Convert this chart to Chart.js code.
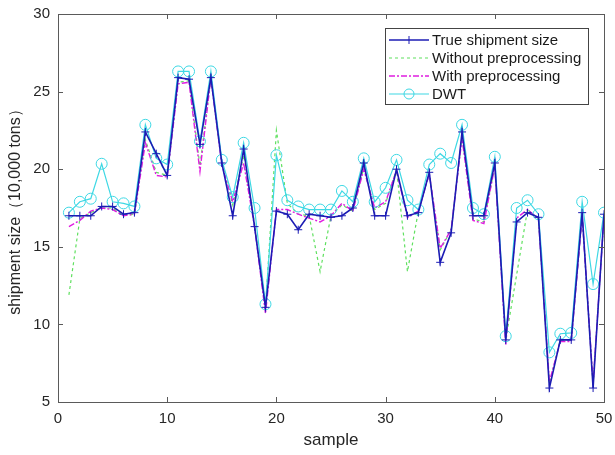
<!DOCTYPE html>
<html>
<head>
<meta charset="utf-8">
<script src="https://cdn.jsdelivr.net/npm/chart.js@4"></script>
<style>
  html, body { margin:0; padding:0; background:#fff; }
  #wrap { width:615px; height:455px; }
</style>
</head>
<body>
<div id="wrap"><canvas id="chart" width="615" height="455"></canvas></div>
<script>
// sample index 1..50
const samples = Array.from({ length: 50 }, (_, i) => i + 1);

const trueSize = [
  17.0, 17.0, 17.0, 17.6, 17.6, 17.1, 17.2, 22.4, 21.0, 19.6,
  25.9, 25.8, 21.6, 25.9, 20.4, 17.0, 21.3, 16.3, 11.1, 17.3,
  17.1, 16.1, 17.1, 17.0, 16.9, 17.0, 17.5, 20.4, 17.0, 17.0,
  20.0, 17.0, 17.2, 19.8, 14.0, 15.9, 22.4, 17.0, 17.0, 20.4,
  9.0, 16.6, 17.2, 16.9, 5.9, 9.0, 9.0, 17.2, 5.9, 17.1
];
const withoutPre = [
  11.9, 16.8, 17.2, 17.5, 17.5, 17.0, 17.1, 21.9, 19.8, 19.6,
  25.6, 25.7, 20.2, 25.9, 20.4, 17.7, 20.9, 16.5, 11.0, 22.5,
  17.8, 17.1, 17.0, 13.4, 17.0, 17.7, 17.3, 20.1, 17.4, 17.8,
  20.0, 13.4, 17.3, 19.7, 14.8, 16.1, 22.1, 16.8, 16.6, 20.2,
  9.0, 13.2, 17.4, 16.8, 6.2, 9.0, 9.0, 17.0, 6.1, 16.9
];
const withPre = [
  16.3, 16.7, 17.3, 17.5, 17.4, 17.0, 17.1, 21.7, 19.6, 19.5,
  25.5, 25.6, 19.85, 25.9, 20.3, 17.9, 20.4, 16.3, 10.7, 17.4,
  17.4, 17.1, 16.85, 16.6, 17.0, 17.8, 17.3, 20.0, 17.5, 17.9,
  19.9, 16.9, 17.3, 19.7, 14.9, 16.1, 22.0, 16.7, 16.5, 20.2,
  8.7, 16.85, 17.4, 16.8, 6.3, 8.9, 8.9, 17.0, 6.2, 16.9
];
const dwt = [
  17.2, 17.9, 18.1, 20.35, 17.9, 17.8, 17.6, 22.86, 20.7, 20.3,
  26.3, 26.3, 21.8, 26.3, 20.6, 18.2, 21.7, 17.5, 11.3, 20.9,
  18.0, 17.6, 17.4, 17.4, 17.4, 18.6, 17.9, 20.7, 17.9, 18.8,
  20.6, 18.0, 17.4, 20.3, 21.0, 20.4, 22.86, 17.5, 17.1, 20.8,
  9.24, 17.5, 18.0, 17.1, 8.2, 9.4, 9.45, 17.9, 12.6, 17.2
];

const xTicks = [0, 10, 20, 30, 40, 50];
const yTicks = [5, 10, 15, 20, 25, 30];

const pts = arr => arr.map((v, i) => ({ x: samples[i], y: v }));

// MATLAB style box + inward ticks
const boxTicks = {
  id: 'boxTicks',
  afterDraw(chart) {
    const { ctx, chartArea: a, scales } = chart;
    ctx.save();
    ctx.strokeStyle = '#5a5a5a';
    ctx.lineWidth = 1;
    ctx.strokeRect(a.left + 0.5, a.top + 0.5, a.right - a.left, a.bottom - a.top);
    ctx.beginPath();
    xTicks.forEach(t => {
      const px = Math.round(scales.x.getPixelForValue(t)) + 0.5;
      ctx.moveTo(px, a.bottom); ctx.lineTo(px, a.bottom - 5);
      ctx.moveTo(px, a.top); ctx.lineTo(px, a.top + 5);
    });
    yTicks.forEach(t => {
      const py = Math.round(scales.y.getPixelForValue(t)) + 0.5;
      ctx.moveTo(a.left, py); ctx.lineTo(a.left + 5, py);
      ctx.moveTo(a.right, py); ctx.lineTo(a.right - 5, py);
    });
    ctx.stroke();

    // legend box
    const lx = 385, ly = 28, lw = 203, lh = 76;
    ctx.fillStyle = '#fff';
    ctx.fillRect(lx, ly, lw, lh);
    ctx.strokeStyle = '#444';
    ctx.strokeRect(lx + 0.5, ly + 0.5, lw, lh);
    ctx.font = '15px "Liberation Sans", Arial, sans-serif';
    ctx.textBaseline = 'middle';
    const order = [0, 1, 2, 3];
    order.forEach((di, k) => {
      const ds = chart.data.datasets[di];
      const y = ly + 12 + k * 18;
      ctx.strokeStyle = ds.borderColor;
      ctx.lineWidth = ds.borderWidth;
      ctx.setLineDash(ds.borderDash || []);
      ctx.beginPath();
      ctx.moveTo(lx + 4, y); ctx.lineTo(lx + 44, y);
      ctx.stroke();
      ctx.setLineDash([]);
      ctx.lineWidth = 1;
      const cx = lx + 24;
      if (ds.pointStyle === 'circle') {
        ctx.beginPath(); ctx.arc(cx, y, 5, 0, Math.PI * 2); ctx.stroke();
      } else if (ds.pointStyle === 'cross') {
        ctx.beginPath(); ctx.moveTo(cx, y - 4); ctx.lineTo(cx, y + 4); ctx.stroke();
      }
      ctx.fillStyle = '#1a1a1a';
      ctx.fillText(ds.label, lx + 47, y + 1);
    });
    ctx.restore();
  }
};

new Chart(document.getElementById('chart'), {
  type: 'line',
  data: {
    datasets: [
      {
        label: 'True shipment size', data: pts(trueSize),
        borderColor: '#1c1cb4', borderWidth: 1.6,
        pointStyle: 'cross', pointRadius: 4, pointBorderWidth: 1, pointBorderColor: '#1c1cb4',
        order: 0
      },
      {
        label: 'Without preprocessing', data: pts(withoutPre),
        borderColor: '#5ee05e', borderWidth: 1.2, borderDash: [3, 3],
        pointRadius: 0, order: 3
      },
      {
        label: 'With preprocessing', data: pts(withPre),
        borderColor: '#e01ee0', borderWidth: 1.4, borderDash: [6, 2, 2, 2],
        pointRadius: 0, order: 2
      },
      {
        label: 'DWT', data: pts(dwt),
        borderColor: '#3ed8e4', borderWidth: 1.2,
        pointStyle: 'circle', pointRadius: 5.5, pointBorderWidth: 1,
        pointBackgroundColor: 'rgba(0,0,0,0)', pointBorderColor: '#3ed8e4',
        order: 1
      }
    ]
  },
  options: {
    responsive: false,
    animation: false,
    events: [],
    layout: { padding: { top: 14, right: 11, left: 0, bottom: 0 } },
    plugins: { legend: { display: false }, tooltip: { enabled: false } },
    scales: {
      x: {
        type: 'linear', min: 0, max: 50,
        afterBuildTicks: s => { s.ticks = xTicks.map(v => ({ value: v })); },
        afterFit: s => { s.height = 53; s.paddingLeft = 0; s.paddingRight = 0; },
        grid: { display: false, drawTicks: false },
        border: { display: false },
        ticks: { padding: 8, color: '#262626', font: { family: '"Liberation Sans", Arial, sans-serif', size: 15 } },
        title: { display: true, text: 'sample', color: '#262626', padding: { top: 2 },
          font: { family: '"Liberation Sans", Arial, sans-serif', size: 17 } }
      },
      y: {
        type: 'linear', min: 5, max: 30,
        afterBuildTicks: s => { s.ticks = yTicks.map(v => ({ value: v })); },
        afterFit: s => { s.width = 58; s.paddingTop = 0; s.paddingBottom = 0; },
        grid: { display: false, drawTicks: false },
        border: { display: false },
        ticks: { padding: 8, color: '#262626', font: { family: '"Liberation Sans", Arial, sans-serif', size: 15 } },
        title: { display: true, text: 'shipment size（10,000 tons）', color: '#262626', padding: { top: 6, bottom: 0 },
          font: { family: '"Liberation Sans", Arial, sans-serif', size: 16 } }
      }
    }
  },
  plugins: [boxTicks]
});
</script>
</body>
</html>
